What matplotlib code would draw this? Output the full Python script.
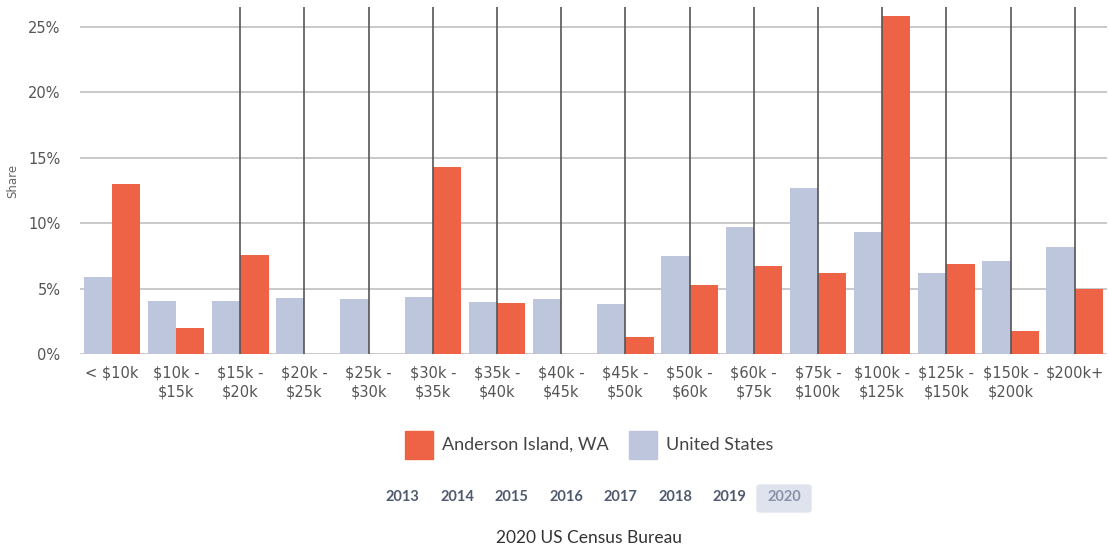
import matplotlib.pyplot as plt
from matplotlib.patches import FancyBboxPatch
import numpy as np

# income brackets and shares (%)
categories = ["< $10k", "$10k -\n$15k", "$15k -\n$20k", "$20k -\n$25k", "$25k -\n$30k",
              "$30k -\n$35k", "$35k -\n$40k", "$40k -\n$45k", "$45k -\n$50k", "$50k -\n$60k",
              "$60k -\n$75k", "$75k -\n$100k", "$100k -\n$125k", "$125k -\n$150k",
              "$150k -\n$200k", "$200k+"]
anderson = [13.0, 2.0, 7.6, 0, 0, 14.3, 3.9, 0, 1.3, 5.3, 6.7, 6.2, 25.8, 6.9, 1.8, 5.0]
united_states = [5.9, 4.1, 4.1, 4.3, 4.2, 4.4, 4.0, 4.2, 3.8, 7.5, 9.7, 12.7, 9.3, 6.2, 7.1, 8.2]
yticks = [0, 5, 10, 15, 20, 25]
years = ["2013", "2014", "2015", "2016", "2017", "2018", "2019", "2020"]

red = "#ee6245"
blue = "#bec6de"

fig = plt.figure(figsize=(11.09, 5.5), dpi=100)
ax = fig.add_axes([0.072, 0.356, 0.926, 0.631])

x = np.arange(len(categories))
w = 0.44
ax.bar(x - w / 2, united_states, width=w, color=blue, zorder=2)
ax.bar(x + w / 2, anderson, width=w, color=red, zorder=2)

# horizontal grid
for yv in yticks:
    ax.axhline(yv, color="#c0c0c0", lw=1.2, zorder=1)
# dark vertical lines (only drawn from third bracket on in the original)
for xi in x[2:]:
    ax.axvline(xi, color="#555555", lw=1.2, zorder=3)

ax.set_xlim(-0.5, 15.5)
ax.set_ylim(0, 26.5)
ax.set_yticks(yticks)
ax.set_yticklabels([f"{v}%" for v in yticks])
ax.set_xticks(x)
ax.set_xticklabels(categories, linespacing=1.35)
ax.tick_params(axis="both", length=0, labelsize=10.5, labelcolor="#555555", pad=8)
ax.tick_params(axis="y", pad=14)
for s in ax.spines.values():
    s.set_visible(False)
ax.set_ylabel("Share", fontsize=8.5, color="#666666", labelpad=6)

# legend
fig.patches.append(plt.Rectangle((405 / 1109, 1 - 459 / 550), 28 / 1109, 28 / 550,
                                 transform=fig.transFigure, color=red))
fig.text(442 / 1109, 1 - 445 / 550, "Anderson Island, WA", fontsize=13, color="#444444",
         va="center", family="Lato")
fig.patches.append(plt.Rectangle((629 / 1109, 1 - 459 / 550), 28 / 1109, 28 / 550,
                                 transform=fig.transFigure, color=blue))
fig.text(666 / 1109, 1 - 445 / 550, "United States", fontsize=13, color="#444444",
         va="center", family="Lato")

# year selector
fig.patches.append(FancyBboxPatch((757 / 1109, 1 - 512 / 550), 54 / 1109, 27 / 550,
                                  boxstyle="round,pad=0,rounding_size=0.004",
                                  transform=fig.transFigure, color="#dfe3ee"))
for i, yr in enumerate(years):
    fig.text((402.5 + i * 54.5) / 1109, 1 - 497 / 550, yr, fontsize=10.5,
             color="#8a93a6" if yr == "2020" else "#505a6e", ha="center", va="center",
             family="Lato", fontweight="bold")

fig.text(589 / 1109, 1 - 538 / 550, "2020 US Census Bureau", fontsize=12.5, color="#333333",
         ha="center", va="center", family="Lato")

fig.savefig("out.png", dpi=100)
